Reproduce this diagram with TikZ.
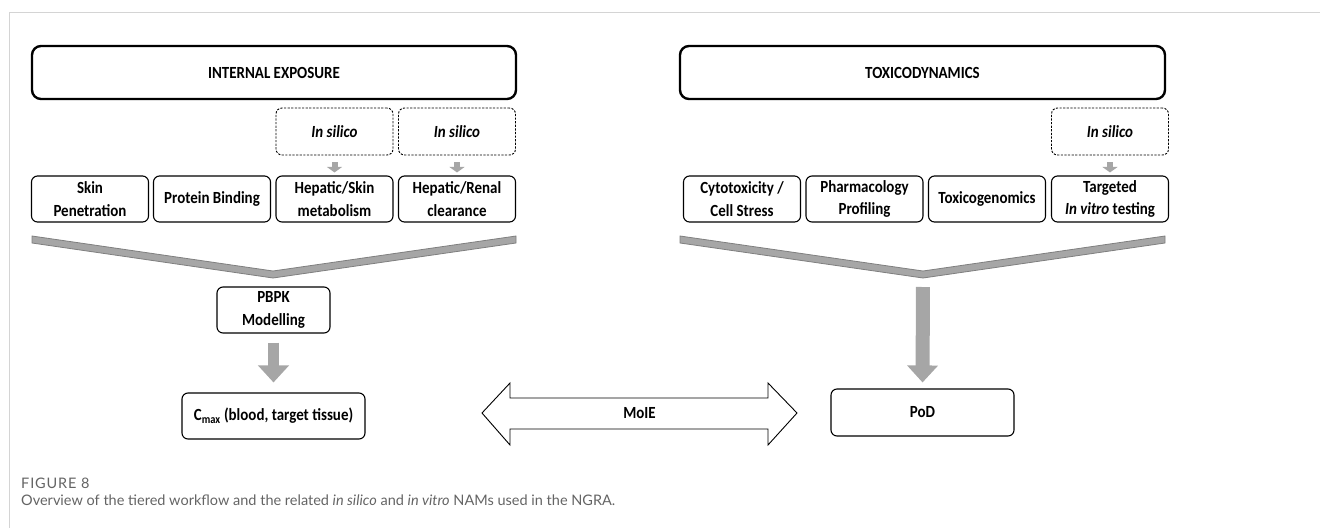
\documentclass[tikz,border=0pt]{standalone}
\usepackage{fontspec}
\setmainfont{Carlito}[FakeStretch=0.88]
\newfontfamily\capfont{Lato}
\newfontfamily\figfont{Lato}[LetterSpace=6]
\usetikzlibrary{arrows.meta,positioning,calc}
\definecolor{ngragray}{RGB}{166,166,166}
\definecolor{ngradark}{RGB}{127,127,127}
\definecolor{ngraframe}{RGB}{212,212,212}
\definecolor{ngracap}{RGB}{100,100,100}

\tikzset{
  box/.style={draw, rounded corners=6pt, line width=1.1pt, align=center, inner sep=0pt,
    font=\bfseries\fontsize{17}{22.5}\selectfont},
  headbox/.style={box, line width=2.4pt, rounded corners=9pt, minimum height=53pt},
  silicobox/.style={box, line width=0.9pt, dash pattern=on 2.2pt off 1.4pt,
    minimum width=117pt, minimum height=47pt},
  rowbox/.style={box, minimum width=117pt, minimum height=46pt},
  chevron/.style={fill=ngragray, draw=ngradark, line width=0.8pt},
  smallarrow/.style={ngragray, line width=6pt, -{Triangle[length=5.5pt,width=15pt]},
    shorten <=7pt, shorten >=3pt},
  bigarrow/.style={ngragray, -{Triangle[length=17pt,width=30pt]}},
}

\begin{document}
\begin{tikzpicture}[x=1pt, y=-1pt]
    \useasboundingbox (0,0) rectangle (1320,528);
    % Frame
    \draw[ngraframe, line width=1pt] (1320,12) -- (9,12) -- (9,528);

    % Headers
    \node[headbox, minimum width=484pt] (expo) at (274,72.5) {INTERNAL EXPOSURE};
    \node[headbox, minimum width=485pt] (tox) at (922.5,72.5) {TOXICODYNAMICS};

    % In silico boxes
    \node[silicobox] (silA) at (334.5,131.5) {\itshape In silico};
    \node[silicobox] (silB) at (457,131.5) {\itshape In silico};
    \node[silicobox] (silC) at (1110,131.5) {\itshape In silico};

    % Methods
    \foreach \n/\x/\t in {skin/90/{Skin\\Penetration}, prot/212/{Protein Binding},
        hepskin/334.5/{Hepatic/Skin\\metabolism}, heprenal/457/{Hepatic/Renal\\clearance},
        cyto/742/{Cytotoxicity /\\Cell Stress}, pharma/864.5/{Pharmacology\\Profiling},
        toxgen/987/{Toxicogenomics}, target/1110/{Targeted\\\textit{In vitro} testing}} {
        \node[rowbox] (\n) at (\x,199) {\t};
    }

    \draw[smallarrow] (silA) -- (hepskin);
    \draw[smallarrow] (silB) -- (heprenal);
    \draw[smallarrow] (silC) -- (target);

    % Chevrons
    \draw[chevron] (32,236) -- (273,271) -- (516,236) -- (516,243) -- (273,278) -- (32,243) -- cycle;
    \draw[chevron] (680,236) -- (923,271) -- (1165,236) -- (1165,243) -- (923,278) -- (680,243) -- cycle;
    \coordinate (vtox) at (923,278);

    % PBPK and results
    \node[box, minimum width=113pt, minimum height=46pt] (pbpk) at (273.5,310) {PBPK\\Modelling};
    \node[box, minimum width=183pt, minimum height=46pt] (cmax) at (273.5,416) {C\textsubscript{max} (blood, target tissue)};
    \node[box, minimum width=183pt, minimum height=47pt] (pod) at (922.5,412.5) {PoD};

    \draw[bigarrow, line width=11pt, shorten <=9pt, shorten >=10pt] (pbpk) -- (cmax);
    \draw[bigarrow, line width=14pt, shorten <=9pt, shorten >=6pt] (vtox) -- (pod.north);

    % MoIE
    \draw[line width=0.9pt, fill=white] (482,413) -- (510,383) -- (510,398) -- (768,398) -- (768,383)
        -- (797,413) -- (768,445) -- (768,429) -- (510,429) -- (510,445) -- cycle;
    \node[font=\bfseries\fontsize{17}{22.5}\selectfont] (moie) at (639.5,413) {MoIE};

    % Caption
    \node[anchor=west, inner sep=0pt, text=ngracap, font=\figfont\fontsize{14.5}{16}\selectfont] (fig) at (21,483) {FIGURE 8};
    \node[anchor=west, inner sep=0pt, text=ngracap, font=\capfont\fontsize{14.5}{16}\selectfont] (cap) at (21,500)
        {Overview of the tiered workflow and the related \textit{in silico} and \textit{in vitro} NAMs used in the NGRA.};
\end{tikzpicture}
\end{document}
